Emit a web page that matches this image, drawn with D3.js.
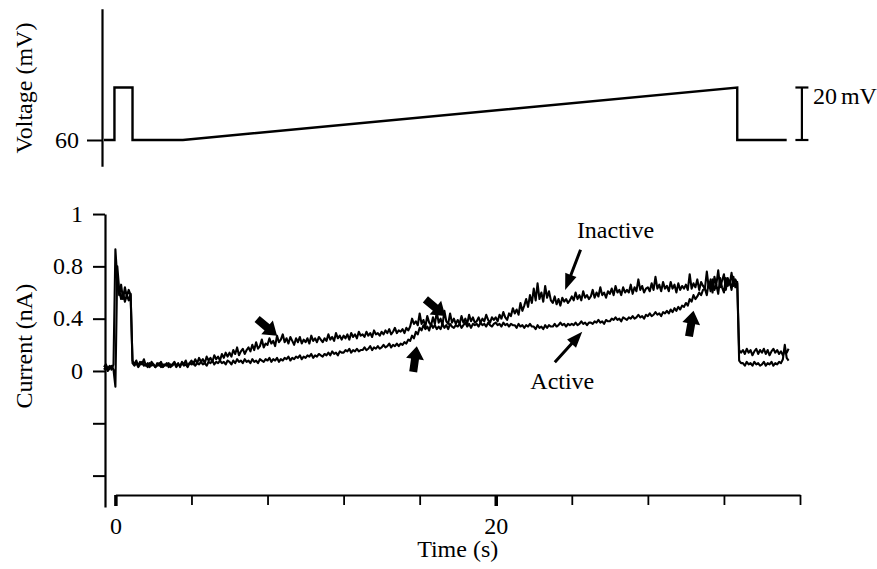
<!DOCTYPE html>
<html>
<head>
<meta charset="utf-8">
<script src="https://cdn.jsdelivr.net/npm/d3@7/dist/d3.min.js"></script>
<style>
  html, body { margin: 0; padding: 0; background: #fff; }
  svg { display: block; }
  text { font-family: "Liberation Serif", "Times New Roman", serif; fill: #000; }
</style>
</head>
<body>
<svg id="chart" width="877" height="569"></svg>
<script>
// ---------------- data ----------------
// Voltage command protocol (time in s, voltage in mV)
const voltageTimes  = [-0.6, -0.05, -0.05, 0.9, 0.9, 3.55, 32.7, 32.7, 35.3];
const voltageValues = [-60, -60, -40, -40, -60, -60, -40, -60, -60];

// Current traces sampled every 0.1 s starting at -0.6 s (nA)
const sampleStart = -0.6;
const sampleStep = 0.1;
const inactiveCurrent = [
  0.03, 0.05, 0.02, 0.04, 0.01, 0.05,
  0.93, 0.70, 0.58, 0.66, 0.55, 0.64, 0.57, 0.62, 0.58, 0.08,
  0.05, 0.08, 0.04, 0.07, 0.05, 0.09, 0.04, 0.06, 0.03, 0.07,
  0.05, 0.03, 0.06, 0.04, 0.07, 0.03, 0.05, 0.04, 0.06, 0.03,
  0.05, 0.07, 0.04, 0.06, 0.03, 0.07, 0.05, 0.08, 0.04, 0.06,
  0.08, 0.05, 0.09, 0.06, 0.10, 0.07, 0.09, 0.06, 0.11, 0.08,
  0.10, 0.07, 0.12, 0.09, 0.11, 0.08, 0.13, 0.10, 0.14, 0.11,
  0.14, 0.11, 0.16, 0.13, 0.18, 0.12, 0.15, 0.17, 0.13, 0.16,
  0.18, 0.15, 0.20, 0.16, 0.22, 0.17, 0.19, 0.24, 0.18, 0.21,
  0.20, 0.25, 0.21, 0.23, 0.19, 0.27, 0.22, 0.24, 0.28, 0.22,
  0.25, 0.21, 0.26, 0.23, 0.20, 0.25, 0.22, 0.26, 0.21, 0.24,
  0.22, 0.25, 0.21, 0.27, 0.23, 0.25, 0.22, 0.26, 0.24, 0.22,
  0.25, 0.23, 0.28, 0.24, 0.26, 0.23, 0.29, 0.25, 0.27, 0.24,
  0.27, 0.25, 0.28, 0.24, 0.29, 0.26, 0.28, 0.25, 0.30, 0.27,
  0.28, 0.26, 0.30, 0.27, 0.29, 0.26, 0.31, 0.28, 0.29, 0.27,
  0.30, 0.28, 0.31, 0.29, 0.32, 0.28, 0.30, 0.33, 0.29, 0.31,
  0.30, 0.32, 0.29, 0.33, 0.31, 0.34, 0.40, 0.36, 0.38, 0.35,
  0.44, 0.36, 0.39, 0.34, 0.42, 0.37, 0.35, 0.41, 0.36, 0.45,
  0.37, 0.40, 0.35, 0.46, 0.38, 0.36, 0.44, 0.37, 0.40, 0.36,
  0.39, 0.36, 0.42, 0.37, 0.40, 0.36, 0.43, 0.38, 0.41, 0.37,
  0.38, 0.41, 0.37, 0.40, 0.38, 0.43, 0.39, 0.37, 0.41, 0.39,
  0.41, 0.38, 0.43, 0.40, 0.45, 0.41, 0.39, 0.44, 0.42, 0.48,
  0.44, 0.47, 0.43, 0.52, 0.46, 0.50, 0.55, 0.49, 0.58, 0.52,
  0.63, 0.54, 0.67, 0.55, 0.60, 0.53, 0.65, 0.56, 0.61, 0.54,
  0.52, 0.57, 0.51, 0.55, 0.50, 0.56, 0.53, 0.55, 0.52, 0.54,
  0.57, 0.54, 0.60, 0.55, 0.58, 0.54, 0.61, 0.56, 0.58, 0.55,
  0.57, 0.62, 0.56, 0.60, 0.57, 0.64, 0.58, 0.60, 0.56, 0.61,
  0.59, 0.63, 0.58, 0.65, 0.60, 0.62, 0.58, 0.64, 0.60, 0.62,
  0.60, 0.66, 0.59, 0.64, 0.61, 0.70, 0.62, 0.65, 0.60, 0.63,
  0.64, 0.61, 0.67, 0.62, 0.72, 0.63, 0.66, 0.61, 0.68, 0.63,
  0.65, 0.61, 0.68, 0.63, 0.66, 0.60, 0.67, 0.62, 0.65, 0.63,
  0.66, 0.62, 0.74, 0.63, 0.67, 0.64, 0.70, 0.62, 0.68, 0.65,
  0.63, 0.76, 0.64, 0.70, 0.60, 0.72, 0.66, 0.77, 0.64, 0.69,
  0.74, 0.62, 0.71, 0.66, 0.75, 0.65, 0.70, 0.67, 0.16, 0.14,
  0.16, 0.13, 0.17, 0.14, 0.16, 0.12, 0.15, 0.17, 0.13, 0.16,
  0.14, 0.17, 0.13, 0.16, 0.12, 0.15, 0.17, 0.14, 0.16, 0.13,
  0.15, 0.12, 0.16, 0.14, 0.17
];
const activeCurrent = [
  0.01, 0.03, 0.00, 0.02, 0.04, 0.01,
  -0.12, 0.80, 0.62, 0.55, 0.60, 0.53, 0.58, 0.54, 0.59, 0.06,
  0.04, 0.06, 0.03, 0.05, 0.07, 0.04, 0.05, 0.03, 0.06, 0.04,
  0.05, 0.03, 0.04, 0.06, 0.03, 0.05, 0.04, 0.06, 0.03, 0.05,
  0.04, 0.06, 0.03, 0.05, 0.04, 0.06, 0.04, 0.05, 0.03, 0.06,
  0.05, 0.07, 0.04, 0.06, 0.05, 0.07, 0.05, 0.06, 0.04, 0.07,
  0.06, 0.08, 0.05, 0.07, 0.06, 0.08, 0.06, 0.07, 0.05, 0.08,
  0.07, 0.05, 0.08, 0.06, 0.09, 0.07, 0.08, 0.06, 0.09, 0.07,
  0.08, 0.06, 0.09, 0.07, 0.08, 0.06, 0.09, 0.08, 0.07, 0.09,
  0.08, 0.10, 0.07, 0.09, 0.08, 0.10, 0.07, 0.09, 0.08, 0.10,
  0.09, 0.11, 0.08, 0.10, 0.09, 0.11, 0.10, 0.12, 0.09, 0.11,
  0.10, 0.12, 0.11, 0.13, 0.10, 0.12, 0.11, 0.13, 0.12, 0.11,
  0.13, 0.12, 0.14, 0.12, 0.15, 0.13, 0.14, 0.12, 0.15, 0.14,
  0.14, 0.16, 0.15, 0.17, 0.14, 0.16, 0.15, 0.17, 0.15, 0.16,
  0.16, 0.18, 0.16, 0.17, 0.19, 0.16, 0.18, 0.17, 0.19, 0.17,
  0.18, 0.20, 0.18, 0.19, 0.21, 0.18, 0.20, 0.19, 0.21, 0.19,
  0.21, 0.20, 0.22, 0.21, 0.24, 0.23, 0.27, 0.25, 0.30, 0.28,
  0.33, 0.31, 0.35, 0.32, 0.34, 0.31, 0.36, 0.33, 0.35, 0.32,
  0.34, 0.32, 0.36, 0.33, 0.35, 0.32, 0.36, 0.34, 0.33, 0.35,
  0.34, 0.36, 0.33, 0.35, 0.37, 0.34, 0.36, 0.33, 0.36, 0.35,
  0.36, 0.34, 0.37, 0.35, 0.36, 0.34, 0.37, 0.35, 0.34, 0.36,
  0.37, 0.35, 0.36, 0.34, 0.37, 0.35, 0.36, 0.34, 0.36, 0.35,
  0.35, 0.33, 0.36, 0.34, 0.35, 0.33, 0.35, 0.34, 0.36, 0.34,
  0.34, 0.32, 0.35, 0.33, 0.34, 0.32, 0.35, 0.33, 0.35, 0.34,
  0.34, 0.36, 0.34, 0.35, 0.37, 0.35, 0.36, 0.34, 0.36, 0.35,
  0.36, 0.35, 0.37, 0.35, 0.36, 0.38, 0.36, 0.37, 0.35, 0.37,
  0.37, 0.36, 0.38, 0.37, 0.39, 0.37, 0.38, 0.36, 0.39, 0.38,
  0.38, 0.40, 0.39, 0.41, 0.39, 0.40, 0.38, 0.41, 0.40, 0.39,
  0.41, 0.40, 0.42, 0.40, 0.41, 0.43, 0.41, 0.42, 0.40, 0.43,
  0.42, 0.44, 0.42, 0.43, 0.45, 0.43, 0.44, 0.42, 0.45, 0.44,
  0.46, 0.44, 0.47, 0.45, 0.48, 0.46, 0.49, 0.47, 0.50, 0.49,
  0.52, 0.50, 0.55, 0.53, 0.58, 0.55, 0.57, 0.60, 0.58, 0.62,
  0.63, 0.58, 0.68, 0.61, 0.70, 0.62, 0.66, 0.59, 0.71, 0.64,
  0.60, 0.71, 0.65, 0.69, 0.62, 0.72, 0.64, 0.68, 0.08, 0.06,
  0.06, 0.04, 0.07, 0.05, 0.06, 0.04, 0.07, 0.05, 0.06, 0.04,
  0.05, 0.07, 0.04, 0.06, 0.05, 0.07, 0.04, 0.06, 0.05, 0.07,
  0.06, 0.09, 0.20, 0.10, 0.08
];

// Axis ticks
const timeTicks = [0, 4, 8, 12, 16, 20, 24, 28, 32, 36];
const timeTickLabels = {0: "0", 20: "20"};
const currentTicks = [-0.8, -0.4, 0, 0.4, 0.8, 1.2];
const currentTickLabels = {"0": "0", "0.4": "0.4", "0.8": "0.8", "1.2": "1"};
const voltageTicks = [-60];
const voltageTickLabels = {"-60": "60"};

// Annotation arrows: tip at (time, current), angle in degrees, kind
const arrows = [
  {t: 8.5,  v: 0.27, angle: 40,  kind: "block"},
  {t: 17.35, v: 0.42, angle: 40,  kind: "block"},
  {t: 15.85, v: 0.19, angle: -82, kind: "block"},
  {t: 30.4, v: 0.46, angle: -80, kind: "block"},
  {t: 23.65, v: 0.62, angle: 111, kind: "thin", len: 43},
  {t: 24.55, v: 0.30, angle: -48, kind: "thin", len: 41}
];
const traceLabels = [
  {text: "Inactive", t: 26.3, v: 1.02},
  {text: "Active",   t: 23.5, v: -0.14}
];

// ---------------- drawing ----------------
const svg = d3.select("#chart");
const FONT = 24;

const x = d3.scaleLinear().domain([0, 36]).range([115.4, 800]);
const yV = d3.scaleLinear().domain([-70, -10]).range([166.25, 8.75]);
const yI = d3.scaleLinear().domain([-1.04, 1.2]).range([507, 214.04]);

// ----- Voltage panel -----
const vAxis = d3.axisLeft(yV).tickValues(voltageTicks).tickSize(15).tickSizeOuter(0)
  .tickPadding(8).tickFormat(d => voltageTickLabels[String(d)] || "");
const gV = svg.append("g").attr("transform", "translate(102,0)").call(vAxis);
gV.select(".domain").attr("stroke", "#000").attr("stroke-width", 2.2);
gV.selectAll(".tick line").attr("stroke", "#000").attr("stroke-width", 2);
gV.selectAll(".tick text").attr("font-size", FONT).attr("font-family", "Liberation Serif");

const vLine = d3.line().x(d => x(d[0])).y(d => yV(d[1]));
svg.append("path")
  .datum(voltageTimes.map((t, i) => [t, voltageValues[i]]))
  .attr("d", vLine).attr("fill", "none").attr("stroke", "#000")
  .attr("stroke-width", 2.4).attr("stroke-linejoin", "miter");

svg.append("text").attr("transform", `translate(32,${yV(-40.2)}) rotate(-90)`)
  .attr("text-anchor", "middle").attr("font-size", FONT).text("Voltage (mV)");

// scale bar 20 mV
const sbX = x(36.1);
const sb = svg.append("g").attr("stroke", "#000").attr("stroke-width", 2.2);
sb.append("line").attr("x1", sbX).attr("x2", sbX).attr("y1", yV(-60)).attr("y2", yV(-40));
sb.append("line").attr("x1", sbX - 6.5).attr("x2", sbX + 6.5).attr("y1", yV(-60)).attr("y2", yV(-60));
sb.append("line").attr("x1", sbX - 6.5).attr("x2", sbX + 6.5).attr("y1", yV(-40)).attr("y2", yV(-40));
svg.append("text").attr("x", sbX + 11).attr("y", yV(-46.3)).attr("font-size", FONT)
  .html('20<tspan dx="4">mV</tspan>');

// ----- Current panel -----
const iAxis = d3.axisLeft(yI).tickValues(currentTicks).tickSize(12).tickSizeOuter(0)
  .tickPadding(10).tickFormat(d => currentTickLabels[String(d)] || "");
const gI = svg.append("g").attr("transform", "translate(105,0)").call(iAxis);
gI.select(".domain").attr("stroke", "#000").attr("stroke-width", 2.2);
gI.selectAll(".tick line").attr("stroke", "#000").attr("stroke-width", 2);
gI.selectAll(".tick text").attr("font-size", FONT).attr("dy", "0.3em");

svg.append("text").attr("transform", `translate(32,${yI(0.19)}) rotate(-90)`)
  .attr("text-anchor", "middle").attr("font-size", FONT).text("Current (nA)");

const xAxis = d3.axisBottom(x).tickValues(timeTicks).tickSize(10).tickSizeOuter(0)
  .tickPadding(12).tickFormat(d => timeTickLabels[d] || "");
const gX = svg.append("g").attr("transform", "translate(0,495)").call(xAxis);
gX.select(".domain").attr("stroke", "#000").attr("stroke-width", 2);
gX.selectAll(".tick line").attr("stroke", "#000").attr("stroke-width", 1.8);
gX.selectAll(".tick").filter(d => d === 0 || d === 20).select("line").attr("stroke-width", 3.5).attr("y2", 11);
gX.selectAll(".tick text").attr("font-size", FONT);

svg.append("text").attr("x", x(18.0)).attr("y", 557).attr("text-anchor", "middle")
  .attr("font-size", FONT).text("Time (s)");

const iLine = d3.line().x((d, i) => x(sampleStart + i * sampleStep)).y(d => yI(d));
[inactiveCurrent, activeCurrent].forEach(series => {
  svg.append("path").datum(series).attr("d", iLine)
    .attr("fill", "none").attr("stroke", "#000").attr("stroke-width", 2.1)
    .attr("stroke-linejoin", "round");
});

// arrows
function arrowPath(kind, len) {
  if (kind === "block") {
    const L = 26, h = 13, hw = 9, sw = 4;
    return `M0,0 L${-h},${-hw} L${-h},${-sw} L${-L},${-sw} L${-L},${sw} L${-h},${sw} L${-h},${hw} Z`;
  }
  const L = len, h = 16, hw = 6, sw = 1.5;
  return `M0,0 L${-h},${-hw} L${-h},${-sw} L${-L},${-sw} L${-L},${sw} L${-h},${sw} L${-h},${hw} Z`;
}
svg.selectAll(".arrow").data(arrows).join("path")
  .attr("class", "arrow")
  .attr("d", d => arrowPath(d.kind, d.len))
  .attr("transform", d => `translate(${x(d.t)},${yI(d.v)}) rotate(${d.angle})`)
  .attr("fill", "#000");

svg.selectAll(".tlabel").data(traceLabels).join("text")
  .attr("class", "tlabel")
  .attr("x", d => x(d.t)).attr("y", d => yI(d.v))
  .attr("text-anchor", "middle").attr("font-size", FONT)
  .text(d => d.text);
</script>
</body>
</html>
